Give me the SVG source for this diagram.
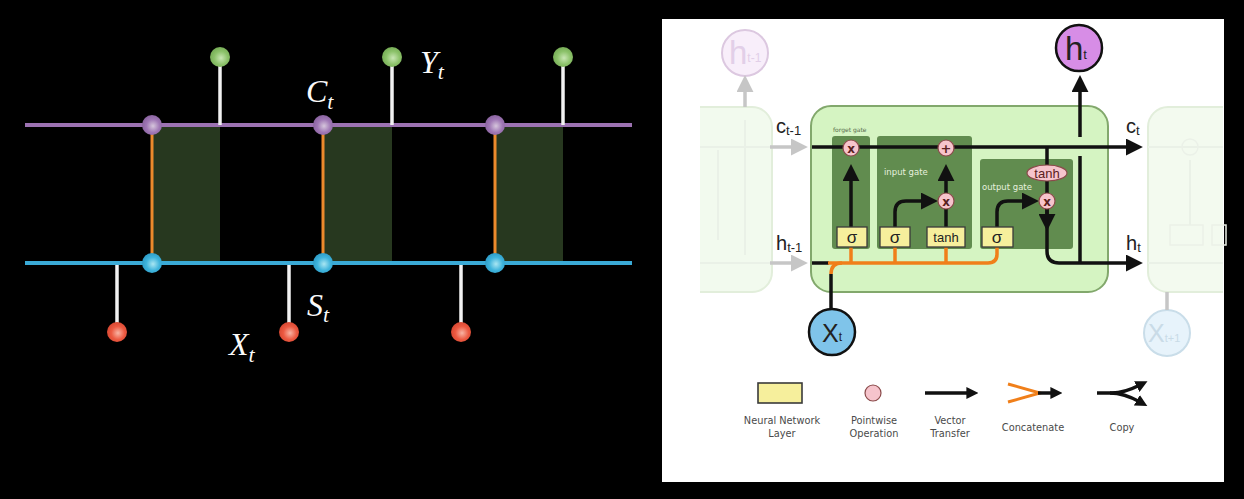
<svg xmlns="http://www.w3.org/2000/svg" width="1244" height="499" viewBox="0 0 1244 499">
<defs>
<radialGradient id="gP" cx="55%" cy="55%" r="60%"><stop offset="0" stop-color="#d6c6dc"/><stop offset="0.55" stop-color="#9f77b5"/><stop offset="1" stop-color="#86609c"/></radialGradient>
<radialGradient id="gB" cx="55%" cy="55%" r="60%"><stop offset="0" stop-color="#a9e6f2"/><stop offset="0.55" stop-color="#3fb4dc"/><stop offset="1" stop-color="#2a98c4"/></radialGradient>
<radialGradient id="gG" cx="55%" cy="55%" r="60%"><stop offset="0" stop-color="#c9e6b4"/><stop offset="0.55" stop-color="#8cc26a"/><stop offset="1" stop-color="#72a852"/></radialGradient>
<radialGradient id="gR" cx="55%" cy="55%" r="60%"><stop offset="0" stop-color="#f8b4a4"/><stop offset="0.55" stop-color="#ec5a42"/><stop offset="1" stop-color="#d4442e"/></radialGradient>
<marker id="ah" viewBox="0 0 10 10" refX="3" refY="5" markerWidth="17" markerHeight="17" markerUnits="userSpaceOnUse" orient="auto"><path d="M0,0 L10,5 L0,10 z" fill="#111"/></marker>
<marker id="ahg" viewBox="0 0 10 10" refX="3" refY="5" markerWidth="17" markerHeight="17" markerUnits="userSpaceOnUse" orient="auto"><path d="M0,0 L10,5 L0,10 z" fill="#c6c6c6"/></marker>
<marker id="ahs" viewBox="0 0 10 10" refX="3" refY="5" markerWidth="12" markerHeight="12" markerUnits="userSpaceOnUse" orient="auto"><path d="M0,0 L10,5 L0,10 z" fill="#111"/></marker>
<style>
.purple{stroke:#9c72b2;stroke-width:4;fill:none}
.blue{stroke:#3aaad6;stroke-width:4;fill:none}
.orangeL{stroke:#ec8a2c;stroke-width:3;fill:none}
.stick{stroke:#f2f2f2;stroke-width:3.5;fill:none}
.shade{fill:#27381f}
.math{font-family:"Liberation Serif","DejaVu Serif",serif;font-style:italic;fill:#fafafa}
.bk{stroke:#111;stroke-width:3.5;fill:none}
.gr{stroke:#c6c6c6;stroke-width:3.5;fill:none}
.or{stroke:#f07f1a;stroke-width:3.5;fill:none}
.gate{fill:#618c4f}
.nn{fill:#f6ef9c;stroke:#3a3a3a;stroke-width:1.3}
.pw{fill:#f6c4cc;stroke:#8a4a4a;stroke-width:1.2}
.pwt{font-family:"DejaVu Sans","Liberation Sans",sans-serif;font-weight:bold;fill:#5a2020;text-anchor:middle}
.sans{font-family:"DejaVu Sans","Liberation Sans",sans-serif}
.lbl{font-family:"Liberation Sans","DejaVu Sans",sans-serif;fill:#222}
.leg{font-family:"DejaVu Sans","Liberation Sans",sans-serif;font-size:9.8px;fill:#4a4a4a;text-anchor:middle}
.faint{stroke:#eaf1e7;stroke-width:2;fill:none}
</style>
</defs>
<rect width="1244" height="499" fill="#000"/>

<g id="left-panel">
  <g id="shades">
    <rect class="shade" x="152" y="125" width="68" height="138"/>
    <rect class="shade" x="323" y="125" width="69" height="138"/>
    <rect class="shade" x="495" y="125" width="68" height="138"/>
  </g>
  <g id="left-connectors">
    <line class="purple" x1="25" y1="125" x2="632" y2="125"/>
    <line class="blue" x1="25" y1="263" x2="632" y2="263"/>
    <line class="orangeL" x1="152" y1="125" x2="152" y2="263"/>
    <line class="orangeL" x1="323" y1="125" x2="323" y2="263"/>
    <line class="orangeL" x1="495" y1="125" x2="495" y2="263"/>
    <line class="stick" x1="220" y1="125" x2="220" y2="57"/>
    <line class="stick" x1="392" y1="125" x2="392" y2="57"/>
    <line class="stick" x1="563" y1="125" x2="563" y2="57"/>
    <line class="stick" x1="117" y1="265" x2="117" y2="332"/>
    <line class="stick" x1="289" y1="265" x2="289" y2="332"/>
    <line class="stick" x1="461" y1="265" x2="461" y2="332"/>
  </g>
  <g id="c-nodes">
    <circle id="c1" cx="152" cy="125" r="10" fill="url(#gP)"/>
    <circle id="c2" cx="323" cy="125" r="10" fill="url(#gP)"/>
    <circle id="c3" cx="495" cy="125" r="10" fill="url(#gP)"/>
  </g>
  <g id="s-nodes">
    <circle id="s1" cx="152" cy="263" r="10" fill="url(#gB)"/>
    <circle id="s2" cx="323" cy="263" r="10" fill="url(#gB)"/>
    <circle id="s3" cx="495" cy="263" r="10" fill="url(#gB)"/>
  </g>
  <g id="y-nodes">
    <circle id="y1" cx="220" cy="57" r="10" fill="url(#gG)"/>
    <circle id="y2" cx="392" cy="57" r="10" fill="url(#gG)"/>
    <circle id="y3" cx="563" cy="57" r="10" fill="url(#gG)"/>
  </g>
  <g id="x-nodes">
    <circle id="x1" cx="117" cy="332" r="10" fill="url(#gR)"/>
    <circle id="x2" cx="289" cy="332" r="10" fill="url(#gR)"/>
    <circle id="x3" cx="461" cy="332" r="10" fill="url(#gR)"/>
  </g>
  <g id="left-labels">
    <text class="math" x="306" y="102" font-size="32">C<tspan font-size="22" dy="7">t</tspan></text>
    <text class="math" x="420" y="73" font-size="32">Y<tspan font-size="22" dy="6">t</tspan></text>
    <text class="math" x="307" y="316" font-size="32">S<tspan font-size="22" dy="6">t</tspan></text>
    <text class="math" x="229" y="355" font-size="32">X<tspan font-size="22" dy="7">t</tspan></text>
  </g>
</g>

<g id="right-panel">
  <rect x="662" y="19" width="562" height="463" fill="#ffffff"/>

  <g id="prev-cell">
    <path d="M700,107 H752 A20,20 0 0 1 772,127 V272 A20,20 0 0 1 752,292 H700" fill="#f2faee" stroke="#e2eedb" stroke-width="2"/>
    <line class="faint" x1="700" y1="147" x2="772" y2="147"/>
    <line class="faint" x1="700" y1="263" x2="772" y2="263"/>
    <line class="faint" x1="745" y1="120" x2="745" y2="255"/>
    <line class="faint" x1="718" y1="150" x2="718" y2="240"/>
  </g>
  <g id="next-cell">
    <path d="M1223,107 H1168 A20,20 0 0 0 1148,127 V272 A20,20 0 0 0 1168,292 H1223" fill="#f3faef" stroke="#e2eedb" stroke-width="2"/>
    <line class="faint" x1="1148" y1="147" x2="1223" y2="147"/>
    <line class="faint" x1="1148" y1="263" x2="1223" y2="263"/>
    <circle cx="1190" cy="147" r="8" fill="none" stroke="#ebf1e8" stroke-width="1.5"/>
    <rect x="1170" y="225" width="33" height="20" fill="none" stroke="#ebf1e8" stroke-width="1.5"/>
    <rect x="1212" y="225" width="14" height="20" fill="none" stroke="#ebf1e8" stroke-width="1.5"/>
    <line class="faint" x1="1190" y1="160" x2="1190" y2="225"/>
  </g>
  <g id="h-prev">
    <circle cx="745" cy="53" r="23" fill="#f8eefa" stroke="#dcc8e0" stroke-width="2"/>
    <text class="lbl" x="729" y="64" font-size="33" style="fill:#e2cfe8">h<tspan font-size="12" dy="-2">t-1</tspan></text>
  </g>
  <g id="x-next">
    <circle cx="1167" cy="333" r="23" fill="#e7f3fb" stroke="#c9dde9" stroke-width="2"/>
    <text class="lbl" x="1148" y="342" font-size="25" style="fill:#c9dbe7">X<tspan font-size="11">t+1</tspan></text>
  </g>

  <g id="cell">
    <rect x="811" y="106" width="297" height="186" rx="20" fill="#d5f4c2" stroke="#82a86c" stroke-width="2"/>
  </g>
  <g id="forget-gate">
    <rect class="gate" x="832" y="136" width="38" height="113" rx="3"/>
    <text class="sans" x="833" y="132" font-size="6" fill="#556b4c">forget gate</text>
  </g>
  <g id="input-gate">
    <rect class="gate" x="877" y="136" width="95" height="113" rx="3"/>
    <text class="sans" x="884" y="175" font-size="8.5" fill="#e6f0de">input gate</text>
  </g>
  <g id="output-gate">
    <rect class="gate" x="980" y="159" width="93" height="90" rx="3"/>
    <text class="sans" x="982" y="190" font-size="8.5" fill="#e6f0de">output gate</text>
  </g>

  <g id="connectors">
    <line class="gr" x1="770" y1="147" x2="796" y2="147" marker-end="url(#ahg)"/>
    <line class="gr" x1="770" y1="263" x2="796" y2="263" marker-end="url(#ahg)"/>
    <line class="gr" x1="745" y1="107" x2="745" y2="87" marker-end="url(#ahg)"/>
    <line class="gr" x1="1167" y1="292" x2="1167" y2="310"/>
    <path class="bk" d="M812,147 H1131" marker-end="url(#ah)"/>
    <path class="bk" d="M851,227 V176" marker-end="url(#ah)"/>
    <path class="bk" d="M946,227 V209"/>
    <path class="bk" d="M946,193 V176" marker-end="url(#ah)"/>
    <path class="bk" d="M895,227 V212 Q895,201 906,201 H926" marker-end="url(#ah)"/>
    <path class="bk" d="M997,227 V212 Q997,201 1008,201 H1027" marker-end="url(#ah)"/>
    <path class="bk" d="M1047,147 V165"/>
    <path class="bk" d="M1047,181 V193"/>
    <path class="bk" d="M1047,209 V251 Q1047,263 1059,263 H1131" marker-end="url(#ah)"/>
    <path class="bk" d="M1047,208 V219" marker-end="url(#ah)"/>
    <path class="bk" d="M1080,263 V156"/>
    <path class="bk" d="M1080,137 V87" marker-end="url(#ah)"/>
    <path class="bk" d="M812,263 H829"/>
    <path class="bk" d="M831,309 V274"/>
    <path class="or" d="M831,274 Q831,263 842,263"/>
    <path class="or" d="M828,263 H988 Q997,263 997,254 V247"/>
    <path class="or" d="M851,263 V247"/>
    <path class="or" d="M895,263 V247"/>
    <path class="or" d="M946,263 V247"/>
  </g>

  <g id="layers">
    <g id="sigma-forget"><rect class="nn" x="837" y="227" width="30" height="20"/><text class="lbl" x="852" y="243" font-size="17" text-anchor="middle">σ</text></g>
    <g id="sigma-input"><rect class="nn" x="880" y="227" width="30" height="20"/><text class="lbl" x="895" y="243" font-size="17" text-anchor="middle">σ</text></g>
    <g id="tanh-input"><rect class="nn" x="927" y="227" width="38" height="20"/><text class="lbl" x="946" y="242" font-size="13" text-anchor="middle">tanh</text></g>
    <g id="sigma-output"><rect class="nn" x="982" y="227" width="31" height="20"/><text class="lbl" x="997" y="243" font-size="17" text-anchor="middle">σ</text></g>
  </g>
  <g id="pointwise">
    <g id="mul-forget"><circle class="pw" cx="851" cy="148" r="8"/><text class="pwt" x="851" y="152.5" font-size="12">x</text></g>
    <g id="add"><circle class="pw" cx="946" cy="148" r="8"/><text class="pwt" x="946" y="152.5" font-size="13">+</text></g>
    <g id="mul-input"><circle class="pw" cx="946" cy="201" r="8"/><text class="pwt" x="946" y="205.5" font-size="12">x</text></g>
    <g id="mul-output"><circle class="pw" cx="1047" cy="201" r="8"/><text class="pwt" x="1047" y="205.5" font-size="12">x</text></g>
    <g id="tanh-output"><ellipse class="pw" cx="1047" cy="173" rx="20" ry="8"/><text class="lbl" x="1047" y="178" font-size="13" text-anchor="middle" style="fill:#5a2020">tanh</text></g>
  </g>

  <g id="h-t">
    <circle cx="1079" cy="48" r="23" fill="#d78de6" stroke="#111" stroke-width="2.5"/>
    <text class="lbl" x="1065" y="60" font-size="33">h<tspan font-size="13" dy="-1">t</tspan></text>
  </g>
  <g id="x-t">
    <circle cx="832" cy="332" r="23" fill="#7fc4ea" stroke="#111" stroke-width="2.5"/>
    <text class="lbl" x="822" y="342" font-size="25">X<tspan font-size="12" dy="-1">t</tspan></text>
  </g>
  <g id="io-labels">
    <text class="lbl" x="776" y="133" font-size="20">c<tspan font-size="13" dy="2">t-1</tspan></text>
    <text class="lbl" x="776" y="250" font-size="20">h<tspan font-size="13" dy="2">t-1</tspan></text>
    <text class="lbl" x="1126" y="133" font-size="20">c<tspan font-size="13" dy="2">t</tspan></text>
    <text class="lbl" x="1126" y="250" font-size="20">h<tspan font-size="13" dy="2">t</tspan></text>
  </g>

  <g id="legend">
    <rect class="nn" x="758" y="383" width="44" height="20" style="stroke-width:1.6"/>
    <circle class="pw" cx="873" cy="393" r="8"/>
    <path class="bk" d="M925,393 H970" marker-end="url(#ahs)"/>
    <path class="or" d="M1008,384 L1040,393 L1008,402" stroke-linejoin="miter" style="stroke-width:3"/>
    <path class="bk" d="M1038,393 H1054" marker-end="url(#ahs)"/>
    <path class="bk" d="M1097,393 H1112 Q1124,393 1140,385" marker-end="url(#ahs)"/>
    <path class="bk" d="M1110,393 Q1124,393 1140,402" marker-end="url(#ahs)"/>
    <text class="leg" x="782" y="424">Neural Network</text>
    <text class="leg" x="782" y="437">Layer</text>
    <text class="leg" x="874" y="424">Pointwise</text>
    <text class="leg" x="874" y="437">Operation</text>
    <text class="leg" x="950" y="424">Vector</text>
    <text class="leg" x="950" y="437">Transfer</text>
    <text class="leg" x="1033" y="431">Concatenate</text>
    <text class="leg" x="1122" y="431">Copy</text>
  </g>
</g>
</svg>
